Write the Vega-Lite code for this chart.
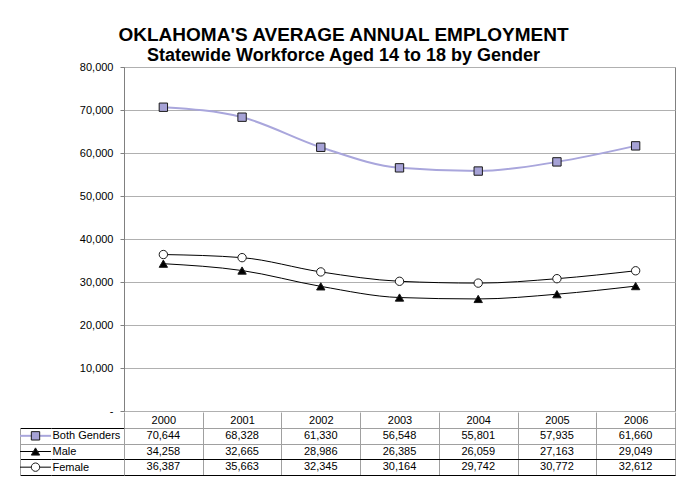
{
  "$schema": "https://vega.github.io/schema/vega-lite/v6.json",
  "padding": {"left": 19, "top": 25, "right": 12, "bottom": 10},
  "background": "white",
  "config": {
    "font": "Liberation Sans",
    "view": {"stroke": "#808080", "strokeWidth": 1},
    "axis": {"labelFont": "Liberation Sans", "labelFontSize": 11, "labelColor": "#000000", "title": null}
  },
  "title": {
    "text": "OKLAHOMA'S AVERAGE ANNUAL EMPLOYMENT",
    "subtitle": "Statewide Workforce Aged 14 to 18 by Gender",
    "anchor": "middle",
    "dx": -4,
    "font": "Liberation Sans",
    "fontSize": 19,
    "fontWeight": "bold",
    "color": "#000000",
    "subtitleFont": "Liberation Sans",
    "subtitleFontSize": 18,
    "subtitleFontWeight": "bold",
    "subtitleColor": "#000000",
    "subtitlePadding": 2,
    "offset": -4
  },
  "data": {
    "values": [
      {"year": 2000, "series": "Both Genders", "value": 70644},
      {"year": 2001, "series": "Both Genders", "value": 68328},
      {"year": 2002, "series": "Both Genders", "value": 61330},
      {"year": 2003, "series": "Both Genders", "value": 56548},
      {"year": 2004, "series": "Both Genders", "value": 55801},
      {"year": 2005, "series": "Both Genders", "value": 57935},
      {"year": 2006, "series": "Both Genders", "value": 61660},
      {"year": 2000, "series": "Male", "value": 34258},
      {"year": 2001, "series": "Male", "value": 32665},
      {"year": 2002, "series": "Male", "value": 28986},
      {"year": 2003, "series": "Male", "value": 26385},
      {"year": 2004, "series": "Male", "value": 26059},
      {"year": 2005, "series": "Male", "value": 27163},
      {"year": 2006, "series": "Male", "value": 29049},
      {"year": 2000, "series": "Female", "value": 36387},
      {"year": 2001, "series": "Female", "value": 35663},
      {"year": 2002, "series": "Female", "value": 32345},
      {"year": 2003, "series": "Female", "value": 30164},
      {"year": 2004, "series": "Female", "value": 29742},
      {"year": 2005, "series": "Female", "value": 30772},
      {"year": 2006, "series": "Female", "value": 32612}
    ]
  },
  "spacing": -6,
  "resolve": {"scale": {"x": "independent", "y": "independent"}},
  "vconcat": [
    {
      "hconcat": [
        {
          "width": 31,
          "height": 344,
          "data": {"values": []},
          "mark": "point",
          "view": {"stroke": null}
        },
        {
          "width": 551,
          "height": 344,
          "layer": [
            {
              "transform": [{"filter": "datum.series === 'Both Genders'"}],
              "mark": {"type": "line", "interpolate": "monotone", "strokeWidth": 2, "color": "#a9a6dc"},
              "encoding": {
                "x": {"field": "year", "type": "ordinal", "scale": {"type": "point", "padding": 0.5}, "axis": null},
                "y": {"field": "value", "type": "quantitative", "scale": {"domain": [0, 80000], "nice": false},
                  "axis": {"values": [0, 10000, 20000, 30000, 40000, 50000, 60000, 70000, 80000],
                    "labelExpr": "datum.value === 0 ? '-' : format(datum.value, ',')",
                    "tickSize": 4, "labelPadding": 7, "tickColor": "#808080", "domainColor": "#808080",
                    "gridColor": "#b0b0b0", "title": null}}
              }
            },
            {
              "transform": [{"filter": "datum.series !== 'Both Genders'"}],
              "mark": {"type": "line", "interpolate": "monotone", "strokeWidth": 1, "color": "#000000"},
              "encoding": {
                "x": {"field": "year", "type": "ordinal", "scale": {"type": "point", "padding": 0.5}, "axis": null},
                "y": {"field": "value", "type": "quantitative"},
                "detail": {"field": "series", "type": "nominal"}
              }
            },
            {
              "mark": {"type": "point", "filled": true, "opacity": 1, "size": 70, "stroke": "#1a1a1a", "strokeWidth": 1},
              "encoding": {
                "x": {"field": "year", "type": "ordinal", "scale": {"type": "point", "padding": 0.5}, "axis": null},
                "y": {"field": "value", "type": "quantitative"},
                "shape": {"field": "series", "type": "nominal", "scale": {"domain": ["Both Genders", "Male", "Female"], "range": ["square", "triangle-up", "circle"]}, "legend": null},
                "fill": {"field": "series", "type": "nominal", "scale": {"domain": ["Both Genders", "Male", "Female"], "range": ["#a6a2d6", "#000000", "#ffffff"]}, "legend": null}
              }
            }
          ]
        }
      ],
      "spacing": 73,
      "bounds": "flush"
    },
    {
      "hconcat": [
        {
          "width": 31,
          "height": 47,
          "view": {"stroke": null},
          "transform": [{"filter": "datum.year === 2000"}],
          "layer": [
            {
              "transform": [{"filter": "datum.series === 'Both Genders'"}],
              "mark": {"type": "rule", "color": "#a9a6dc", "strokeWidth": 2},
              "encoding": {
                "x": {"datum": 0, "type": "quantitative", "scale": {"domain": [0, 1], "nice": false, "zero": false}, "axis": null},
                "x2": {"datum": 1},
                "y": {"field": "series", "type": "nominal",
                  "scale": {"type": "band", "domain": ["Both Genders", "Male", "Female"], "paddingInner": 0, "paddingOuter": 0},
                  "axis": {"orient": "left", "title": null, "labels": false, "ticks": false, "grid": false, "domain": true, "domainColor": "#a0a0a0"}}
              }
            },
            {
              "transform": [{"filter": "datum.series !== 'Both Genders'"}],
              "mark": {"type": "rule", "color": "#000000", "strokeWidth": 1},
              "encoding": {
                "x": {"datum": 0, "type": "quantitative"},
                "x2": {"datum": 1},
                "y": {"field": "series", "type": "nominal", "axis": null}
              }
            },
            {
              "mark": {"type": "point", "filled": true, "opacity": 1, "size": 70, "stroke": "#1a1a1a", "strokeWidth": 1},
              "encoding": {
                "x": {"datum": 0.5, "type": "quantitative"},
                "y": {"field": "series", "type": "nominal",
                  "axis": {"orient": "right", "title": null, "domain": false, "ticks": true, "tickSize": 73, "tickBand": "extent",
                    "tickColor": {"condition": {"test": "datum.value === 'Both Genders'", "value": "#a0a0a0"}, "value": "#000000"},
                    "grid": true,
                    "gridColor": {"condition": {"test": "datum.value === 'Both Genders'", "value": "#a0a0a0"}, "value": "#000000"},
                    "labelPadding": -72, "labelAlign": "left", "labelBaseline": "middle", "labelFontSize": 11, "labelColor": "#000000"}},
                "shape": {"field": "series", "type": "nominal", "scale": {"domain": ["Both Genders", "Male", "Female"], "range": ["square", "triangle-up", "circle"]}, "legend": null},
                "fill": {"field": "series", "type": "nominal", "scale": {"domain": ["Both Genders", "Male", "Female"], "range": ["#a6a2d6", "#000000", "#ffffff"]}, "legend": null}
              }
            }
          ],
          "resolve": {"axis": {"y": "independent"}}
        },
        {
          "width": 551,
          "height": 47,
          "view": {"stroke": "#a0a0a0"},
          "mark": {"type": "text", "fontSize": 11, "color": "#000000", "baseline": "middle"},
          "encoding": {
            "x": {"field": "year", "type": "ordinal", "scale": {"type": "band", "paddingInner": 0, "paddingOuter": 0},
              "axis": {"orient": "top", "title": null, "tickBand": "extent", "tickSize": 16, "tickColor": "#a0a0a0", "domainColor": "#a0a0a0",
                "grid": true, "gridColor": "#a0a0a0", "labelAngle": 0, "labelPadding": -8, "labelBaseline": "middle", "labelFontSize": 11}},
            "y": {"field": "series", "type": "nominal",
              "scale": {"type": "band", "domain": ["Both Genders", "Male", "Female"], "paddingInner": 0, "paddingOuter": 0},
              "axis": {"title": null, "labels": false, "ticks": false, "domain": false, "grid": true, "tickBand": "extent",
                "gridColor": {"condition": {"test": "datum.value === 'Both Genders'", "value": "#a0a0a0"}, "value": "#000000"}}},
            "text": {"field": "value", "type": "quantitative", "format": ","}
          }
        }
      ],
      "spacing": 73,
      "bounds": "flush",
      "resolve": {"scale": {"y": "independent"}}
    }
  ]
}
